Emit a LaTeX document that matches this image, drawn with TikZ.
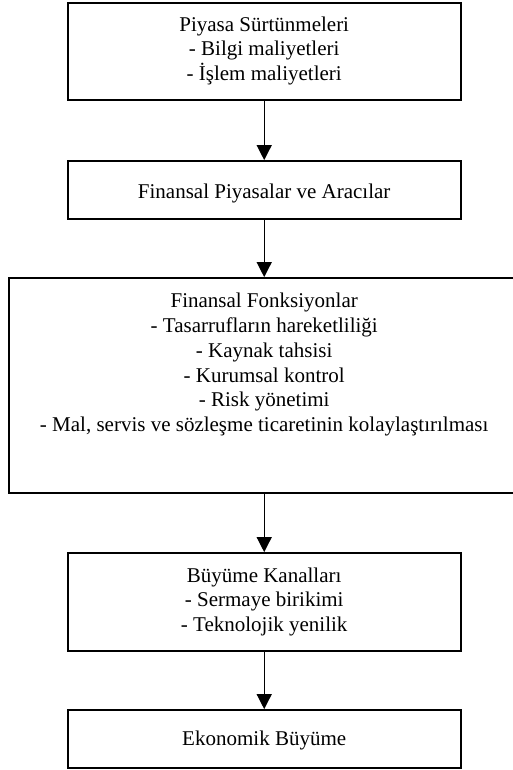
\documentclass[tikz,border=0pt]{standalone}
\usepackage{fontspec}
\setmainfont{Liberation Serif}
\usetikzlibrary{arrows.meta}
\begin{document}
\begin{tikzpicture}[x=1pt,y=-1pt,
  box/.style={draw, line width=1.8pt, fill=white, inner sep=0pt, minimum width=393pt},
  txt/.style={inner sep=0pt, align=center, anchor=north, font=\fontsize{21}{24.7}\selectfont},
  arr/.style={line width=1.3pt, -{Triangle[width=15pt,length=15pt]}}]
\useasboundingbox (0,0) rectangle (512,770);
\fill[white] (0,0) rectangle (512,770);
\node[box, minimum height=97pt] (b1) at (264.2,51.5) {};
\node[box, minimum height=58pt] (b2) at (264.2,190) {};
\node[box, minimum height=215pt, minimum width=511pt] (b3) at (264.2,385.5) {};
\node[box, minimum height=98pt] (b4) at (264.2,602) {};
\node[box, minimum height=58pt] (b5) at (264.2,739) {};
\node[txt] (t1) at (264.2,11) {\rule{0pt}{20pt}Piyasa Sürtünmeleri\\- Bilgi maliyetleri\\- İşlem maliyetleri};
\node[txt] (t2) at (264.2,178.3) {\rule{0pt}{20pt}Finansal Piyasalar ve Aracılar};
\node[txt] (t3) at (264.2,287.7) {\rule{0pt}{20pt}Finansal Fonksiyonlar\\- Tasarrufların hareketliliği\\- Kaynak tahsisi\\- Kurumsal kontrol\\- Risk yönetimi\\- Mal, servis ve sözleşme ticaretinin kolaylaştırılması};
\node[txt] (t4) at (264.2,562) {\rule{0pt}{20pt}Büyüme Kanalları\\- Sermaye birikimi\\- Teknolojik yenilik};
\node[txt] (t5) at (264.2,725.7) {\rule{0pt}{20pt}Ekonomik Büyüme};
\draw[arr] (b1) -- (b2);
\draw[arr] (b2) -- (b3);
\draw[arr] (b3) -- (b4);
\draw[arr] (b4) -- (b5);
\end{tikzpicture}
\end{document}
